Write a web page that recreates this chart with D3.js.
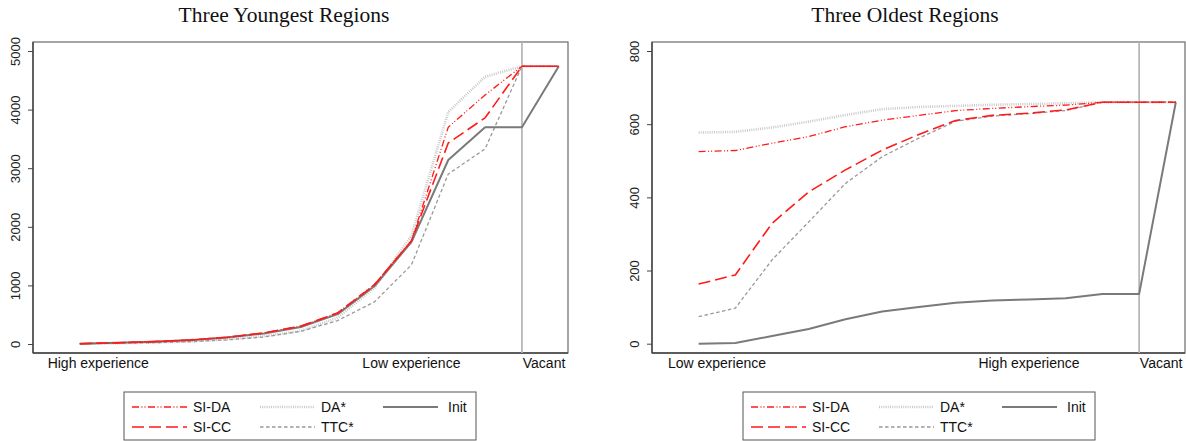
<!DOCTYPE html>
<html>
<head>
<meta charset="utf-8">
<script src="https://cdn.jsdelivr.net/npm/d3@7"></script>
<style>
  html, body { margin: 0; padding: 0; background: #fff; }
  svg { display: block; }
</style>
</head>
<body>
<svg id="chart" width="1186" height="441"></svg>
<script>
// ---- Data ----
const positions = [1, 2, 3, 4, 5, 6, 7, 8, 9, 10, 11, 12, 13, 14];
const vacantPosition = 13;

// Panel 1: Three Youngest Regions
const youngSIDA = [5, 20, 40, 70, 115, 190, 305, 530, 1020, 1760, 3700, 4250, 4740, 4740];
const youngSICC = [5, 20, 40, 70, 115, 190, 305, 530, 1010, 1760, 3430, 3860, 4740, 4740];
const youngDA   = [5, 12, 25, 45, 80, 135, 225, 450, 960, 1850, 3960, 4560, 4740, 4740];
const youngTTC  = [5, 12, 22, 40, 70, 120, 215, 400, 720, 1350, 2900, 3330, 4740, 4740];
const youngInit = [5, 20, 40, 65, 110, 180, 290, 510, 990, 1740, 3140, 3700, 3700, 4740];
const youngYTicks = [0, 1000, 2000, 3000, 4000, 5000];
const youngXLabels = [
  { pos: 1.5, text: "High experience" },
  { pos: 10, text: "Low experience" },
  { pos: 13.6, text: "Vacant" }
];

// Panel 2: Three Oldest Regions
const oldSIDA = [525, 528, 548, 566, 593, 611, 624, 637, 643, 648, 652, 660, 660, 660];
const oldSICC = [163, 188, 329, 415, 475, 529, 572, 610, 624, 630, 639, 660, 660, 660];
const oldDA   = [577, 579, 591, 607, 625, 641, 647, 650, 653, 655, 657, 660, 660, 660];
const oldTTC  = [74, 97, 229, 333, 438, 511, 562, 608, 622, 629, 637, 660, 660, 660];
const oldInit = [0, 2, 21, 40, 67, 88, 100, 112, 118, 121, 124, 136, 136, 660];
const oldYTicks = [0, 200, 400, 600, 800];
const oldXLabels = [
  { pos: 1.5, text: "Low experience" },
  { pos: 10, text: "High experience" },
  { pos: 13.6, text: "Vacant" }
];

const seriesNames = ["SI-DA", "SI-CC", "DA*", "TTC*", "Init"];

// ---- Styles ----
const styles = {
  "SI-DA": { color: "#ff1a1a", width: 1.3, dash: "7,2.5,1,2,1,2.5" },
  "SI-CC": { color: "#ff1a1a", width: 1.6, dash: "12,5" },
  "DA*":   { color: "#c9c9c9", width: 2.6, dash: "1,1.2" },
  "TTC*":  { color: "#999999", width: 1.3, dash: "3.5,2.5" },
  "Init":  { color: "#7a7a7a", width: 2.0, dash: null }
};

const svg = d3.select("#chart");

function drawPanel(cfg) {
  const g = svg.append("g");
  const x = d3.scaleLinear().domain([-0.27, 14.25]).range([cfg.left, cfg.right]);
  const y = d3.scaleLinear().domain([0, cfg.yMax]).range([cfg.y0, cfg.yMaxPx]);

  // frame
  g.append("rect")
    .attr("x", cfg.left).attr("y", cfg.top)
    .attr("width", cfg.right - cfg.left).attr("height", cfg.bottom - cfg.top)
    .attr("fill", "none").attr("stroke", "#6a6a6a").attr("stroke-width", 1.2);

  // axis lines (darker)
  g.append("line").attr("x1", cfg.left).attr("x2", cfg.left)
    .attr("y1", cfg.top).attr("y2", cfg.bottom)
    .attr("stroke", "#444").attr("stroke-width", 1.4);
  g.append("line").attr("x1", cfg.left).attr("x2", cfg.right)
    .attr("y1", cfg.bottom).attr("y2", cfg.bottom)
    .attr("stroke", "#444").attr("stroke-width", 1.6);

  // y axis via d3.axisLeft
  const yAxis = g.append("g")
    .attr("transform", `translate(${cfg.left},0)`)
    .call(d3.axisLeft(y).tickValues(cfg.yTicks).tickSize(5).tickPadding(3).tickFormat(d3.format("d")));
  yAxis.select(".domain").remove();
  yAxis.selectAll(".tick line").attr("stroke", "#444").attr("stroke-width", 1);
  yAxis.selectAll(".tick text")
    .attr("font-family", "'Liberation Sans', Arial, Helvetica, sans-serif")
    .attr("font-size", 13)
    .attr("fill", "#222")
    .attr("text-anchor", "middle")
    .attr("x", 0).attr("dy", 0)
    .attr("transform", `translate(${-18},0) rotate(-90) translate(0,4.5)`);

  // vacant line
  g.append("line")
    .attr("x1", x(vacantPosition)).attr("x2", x(vacantPosition))
    .attr("y1", cfg.top).attr("y2", cfg.bottom)
    .attr("stroke", "#b0b0b0").attr("stroke-width", 1.6);

  // x labels
  g.selectAll(".xl").data(cfg.xLabels).enter().append("text")
    .attr("x", d => x(d.pos)).attr("y", cfg.bottom + 15)
    .attr("text-anchor", "middle")
    .attr("font-family", "'Liberation Sans', Arial, Helvetica, sans-serif")
    .attr("font-size", 14).attr("fill", "#111")
    .text(d => d.text);

  // lines — draw order: DA (bottom), TTC, Init, SI-CC, SI-DA
  const line = d3.line().x((d, i) => x(positions[i])).y(d => y(d)).curve(d3.curveLinear);
  const order = ["DA*", "TTC*", "Init", "SI-CC", "SI-DA"];
  order.forEach(name => {
    const st = styles[name];
    g.append("path")
      .datum(cfg.series[name])
      .attr("d", line)
      .attr("fill", "none")
      .attr("stroke", st.color)
      .attr("stroke-width", st.width)
      .attr("stroke-dasharray", st.dash)
      .attr("stroke-linejoin", "round");
  });

  // title
  svg.append("text")
    .attr("x", cfg.titleX).attr("y", 22)
    .attr("text-anchor", "middle")
    .attr("font-family", "'Liberation Serif', 'DejaVu Serif', serif")
    .attr("font-size", 21.5).attr("fill", "#111")
    .text(cfg.title);

  // legend
  const lg = svg.append("g").attr("transform", `translate(${cfg.legendX},392)`);
  lg.append("rect").attr("x", 0).attr("y", 0).attr("width", 352).attr("height", 48)
    .attr("fill", "#fff").attr("stroke", "#555").attr("stroke-width", 1);
  const items = [
    { name: "SI-DA", col: 0, row: 0 },
    { name: "DA*", col: 1, row: 0 },
    { name: "Init", col: 2, row: 0 },
    { name: "SI-CC", col: 0, row: 1 },
    { name: "TTC*", col: 1, row: 1 }
  ];
  const colX = [8, 136, 259];
  const rowY = [15, 35];
  items.forEach(it => {
    const st = styles[it.name];
    const x0 = colX[it.col];
    const yy = rowY[it.row];
    lg.append("line").attr("x1", x0).attr("x2", x0 + 55).attr("y1", yy).attr("y2", yy)
      .attr("stroke", st.color).attr("stroke-width", st.width)
      .attr("stroke-dasharray", st.dash);
    lg.append("text")
      .attr("x", it.name === "Init" ? x0 + 65 : x0 + 61).attr("y", yy + 5)
      .attr("font-family", "'Liberation Sans', Arial, Helvetica, sans-serif")
      .attr("font-size", 14).attr("fill", "#111")
      .text(it.name);
  });
}

drawPanel({
  title: "Three Youngest Regions", titleX: 284,
  left: 33, right: 568, top: 42, bottom: 353,
  y0: 344, yMaxPx: 51, yMax: 5000, yTicks: youngYTicks,
  xLabels: youngXLabels, legendX: 124,
  series: { "SI-DA": youngSIDA, "SI-CC": youngSICC, "DA*": youngDA, "TTC*": youngTTC, "Init": youngInit }
});

drawPanel({
  title: "Three Oldest Regions", titleX: 905,
  left: 652, right: 1185, top: 42, bottom: 353,
  y0: 343.7, yMaxPx: 51, yMax: 800, yTicks: oldYTicks,
  xLabels: oldXLabels, legendX: 743,
  series: { "SI-DA": oldSIDA, "SI-CC": oldSICC, "DA*": oldDA, "TTC*": oldTTC, "Init": oldInit }
});
</script>
</body>
</html>
